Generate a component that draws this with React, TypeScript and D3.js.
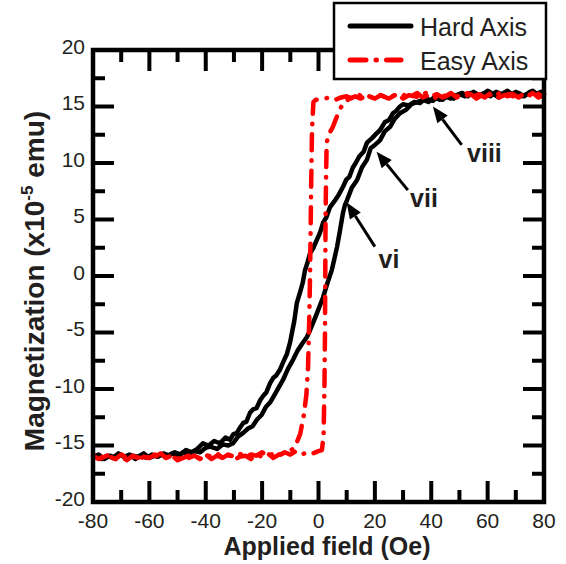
import React, { useEffect, useRef } from "react";
import * as d3 from "d3";

// field (Oe), magnetization (x1e-5 emu)
const hardDown: [number, number][] = [
  [80, 16.2], [78, 16.0], [76, 16.4], [74, 16.1], [72, 15.9], [70, 16.3], [68, 16.0], [66, 16.2], [64, 15.8], [62, 16.1],
  [60, 16.4], [58, 16.0], [56, 15.8], [54, 16.2], [52, 15.9], [50, 16.1], [48, 15.7], [46, 16.0], [44, 15.6], [42, 15.8],
  [40.6, 15.5], [38, 15.7], [36, 15.3], [34, 15.4], [32, 15.1], [30, 15.2], [28.9, 15.0], [27.5, 14.6], [26.4, 14.4], [25, 13.8],
  [23.5, 13.6], [21.8, 12.9], [20.5, 12.6], [19, 12.2], [17.2, 11.8], [16, 11.0], [14.5, 10.6], [13.2, 10.0], [12.2, 9.6], [11, 8.8],
  [9.8, 8.5], [8.7, 7.9], [7.2, 7.2], [5.6, 6.6], [4.1, 6.1], [2.8, 5.2], [1.6, 4.7], [0.5, 3.8], [-0.6, 3.2], [-1.8, 2.5],
  [-3.0, 2.0], [-3.9, 1.2], [-4.8, 0.5], [-5.6, -0.6], [-6.5, -1.4], [-7.7, -2.4], [-8.6, -4.0], [-9.4, -5.0], [-10.1, -5.9], [-11.2, -6.9],
  [-12.5, -7.6], [-13.7, -8.3], [-15, -8.8], [-16, -9.0], [-17.2, -9.5], [-18.5, -10.3], [-19.6, -10.6], [-20.7, -11.0], [-22, -11.7], [-23.2, -11.8],
  [-24.3, -12.1], [-25.6, -12.9], [-26.7, -13.0], [-27.8, -13.4], [-29, -13.9], [-30.2, -14.0], [-31.4, -14.5], [-33, -14.3], [-35, -14.8], [-37, -14.6],
  [-39, -15.0], [-41, -14.8], [-43, -15.3], [-45, -15.6], [-47, -15.4], [-49, -15.8], [-51, -15.6], [-53, -15.9], [-55, -15.7], [-57, -16.0],
  [-59, -15.8], [-61, -16.1], [-63, -15.9], [-65, -16.2], [-67, -15.8], [-69, -16.0], [-71, -15.7], [-73, -16.1], [-75, -15.9], [-77, -16.2],
  [-79, -15.9], [-80, -16.0],
];

const hardUp: [number, number][] = [
  [-80, -16.1], [-78, -15.8], [-76, -16.2], [-74, -15.9], [-72, -16.1], [-70, -15.8], [-68, -16.2], [-66, -15.9], [-64, -16.0], [-62, -15.7],
  [-60, -16.1], [-58, -15.9], [-56, -15.8], [-54, -16.0], [-52, -15.7], [-50, -15.9], [-48, -15.6], [-46, -15.8], [-44, -15.5], [-42, -15.6],
  [-40, -15.2], [-38.5, -15.1], [-36, -15.3], [-34, -14.9], [-32, -15.0], [-30.3, -14.8], [-28.5, -14.2], [-26.8, -13.9], [-25, -13.5], [-23.4, -13.3],
  [-21.8, -12.7], [-20.2, -12.3], [-18.7, -11.6], [-17.2, -11.2], [-15.8, -10.6], [-14.2, -9.9], [-12.6, -9.2], [-10.8, -8.2], [-9.0, -7.4], [-7.4, -6.6],
  [-5.8, -6.0], [-4.1, -5.4], [-3.0, -4.8], [-2.0, -4.2], [-0.4, -3.2], [1.6, -1.9], [3.2, -0.6], [4.7, 0.5], [5.7, 1.6], [6.6, 2.6],
  [7.6, 4.0], [8.7, 5.6], [9.4, 6.3], [10.1, 6.7], [11.8, 7.8], [13.7, 8.5], [15.4, 9.6], [17.2, 10.3], [18.5, 11.3], [20, 11.6],
  [21.8, 12.0], [23.5, 12.8], [25.4, 13.2], [27, 13.9], [28.9, 14.4], [31, 14.7], [33, 15.2], [35, 15.4], [37, 15.6], [39, 15.4],
  [41, 15.8], [43, 15.6], [45, 15.9], [47, 15.7], [49, 16.0], [51, 16.2], [53, 15.9], [55, 16.3], [57, 16.0], [59, 16.2],
  [61, 15.9], [63, 16.3], [65, 16.1], [67, 16.4], [69, 16.0], [71, 16.2], [73, 15.9], [75, 16.3], [77, 16.1], [79, 16.3],
  [80, 16.0],
];

const easyDown: [number, number][] = [
  [80, 16.1], [78, 15.8], [76, 16.2], [74, 15.9], [72, 16.0], [70, 15.7], [68, 16.1], [66, 16.0], [64, 15.8], [62, 16.2],
  [60, 15.9], [58, 16.0], [56, 15.7], [54, 16.1], [52, 15.9], [50, 15.8], [48, 16.2], [46, 16.0], [44, 15.8], [42, 16.1],
  [40, 15.9], [38, 16.2], [36, 15.8], [34, 15.9], [32, 16.0], [30, 15.7], [28, 16.1], [26, 15.9], [24, 15.8], [22, 16.0],
  [20, 15.7], [18, 15.9], [16, 15.8], [14, 16.1], [12, 15.7], [10, 15.9], [8, 15.8], [6, 15.6], [4, 15.8], [2, 15.7],
  [0, 15.6], [-1, 15.6], [-1.8, 15.4], [-2.3, 13], [-2.6, 8], [-2.8, 4], [-3.0, 0], [-3.3, -4], [-3.7, -8], [-4.3, -10.5],
  [-5.2, -12.3], [-6.5, -14], [-8.5, -15.2], [-11, -15.6], [-14, -15.8], [-16, -16.1], [-18, -15.7], [-20, -16.0], [-22, -15.8], [-24, -16.2],
  [-26, -15.9], [-28, -16.0], [-30, -16.3], [-32, -15.8], [-34, -16.1], [-36, -15.9], [-38, -16.2], [-40, -15.8], [-42, -16.0], [-44, -16.2],
  [-46, -15.9], [-48, -16.1], [-50, -16.3], [-52, -15.9], [-54, -16.0], [-56, -16.2], [-58, -15.8], [-60, -16.1], [-62, -16.0], [-64, -16.3],
  [-66, -15.9], [-68, -16.1], [-70, -15.8], [-72, -16.2], [-74, -16.0], [-76, -15.9], [-78, -16.2], [-80, -16.0],
];

const easyUp: [number, number][] = [
  [-80, -15.9], [-78, -16.2], [-76, -16.0], [-74, -15.8], [-72, -16.2], [-70, -16.0], [-68, -16.3], [-66, -15.9], [-64, -16.1], [-62, -15.8],
  [-60, -16.2], [-58, -16.0], [-56, -15.7], [-54, -16.1], [-52, -15.9], [-50, -16.2], [-48, -15.8], [-46, -16.1], [-44, -15.9], [-42, -16.2],
  [-40, -15.8], [-38, -16.0], [-36, -15.7], [-34, -16.1], [-32, -15.8], [-30, -16.0], [-28, -15.7], [-26, -16.1], [-24, -15.8], [-22, -15.9],
  [-20, -15.6], [-18, -16.0], [-16, -15.7], [-14, -15.9], [-12, -15.6], [-10, -15.8], [-8, -15.5], [-6, -15.8], [-4, -15.6], [-2, -15.7],
  [0, -15.5], [1.2, -15.4], [1.8, -14.2], [2.1, -10], [2.3, -5], [2.4, 0], [2.5, 5], [2.7, 9], [2.9, 11.8], [3.6, 12.5],
  [5.1, 13.2], [6.8, 14.3], [8.7, 15.3], [11, 15.7], [13, 15.9], [15, 15.7], [17, 16.0], [19, 15.8], [21, 16.1], [23, 15.9],
  [25, 15.7], [27, 16.0], [29, 15.8], [31, 16.1], [33, 15.9], [35, 16.2], [37, 15.8], [39, 16.0], [41, 15.7], [43, 16.1],
  [45, 15.9], [47, 16.2], [49, 15.8], [51, 16.0], [53, 16.2], [55, 15.9], [57, 16.1], [59, 15.8], [61, 16.2], [63, 16.0],
  [65, 16.3], [67, 15.9], [69, 16.1], [71, 15.8], [73, 16.2], [75, 16.0], [77, 16.3], [79, 15.9], [80, 16.1],
];

const xTicks = [-80, -60, -40, -20, 0, 20, 40, 60, 80];
const xMinor = [-70, -50, -30, -10, 10, 30, 50, 70];
const yTicks = [-20, -15, -10, -5, 0, 5, 10, 15, 20];
const yMinor = [-17.5, -12.5, -7.5, -2.5, 2.5, 7.5, 12.5, 17.5];

// annotations: tip, tail of arrow and text anchor, in data units
const notes = [
  { text: "vi", tip: [10.0, 6.5], tail: [20.0, 2.6], at: [21.3, 0.7] },
  { text: "vii", tip: [20.6, 11.0], tail: [31.7, 7.6], at: [32.5, 6.1] },
  { text: "viii", tip: [40.6, 15.0], tail: [50.8, 11.6], at: [52.7, 10.1] },
];

const FONT = "'Liberation Sans', Arial, Helvetica, sans-serif";
const TXT = "#231f20";

export default function App() {
  const svgRef = useRef<SVGSVGElement>(null);

  useEffect(() => {
    const svg = d3.select(svgRef.current);
    svg.selectAll("*").remove();

    const x = d3.scaleLinear().domain([-80, 80]).range([93, 544]);
    const y = d3.scaleLinear().domain([-20, 20]).range([502, 50]);

    const line = d3.line<[number, number]>()
      .x(d => x(d[0]))
      .y(d => y(d[1]));

    // hard axis loop
    [hardDown, hardUp].forEach(s => {
      svg.append("path")
        .attr("d", line(s))
        .attr("fill", "none")
        .attr("stroke", "#000")
        .attr("stroke-width", 4.5)
        .attr("stroke-linejoin", "round");
    });

    // easy axis loop
    [easyDown, easyUp].forEach(s => {
      svg.append("path")
        .attr("d", line(s))
        .attr("fill", "none")
        .attr("stroke", "#ff0000")
        .attr("stroke-width", 4.5)
        .attr("stroke-linecap", "round")
        .attr("stroke-linejoin", "round")
        .attr("stroke-dasharray", "16 10 0.5 10");
    });

    // frame
    svg.append("rect")
      .attr("x", x(-80)).attr("y", y(20))
      .attr("width", x(80) - x(-80)).attr("height", y(-20) - y(20))
      .attr("fill", "none").attr("stroke", "#000").attr("stroke-width", 4.5);

    const ticks = svg.append("g").attr("stroke", "#000").attr("stroke-width", 4);
    const addX = (vals: number[], len: number) => {
      vals.forEach(v => {
        ticks.append("line").attr("x1", x(v)).attr("x2", x(v)).attr("y1", y(-20)).attr("y2", y(-20) - len);
        ticks.append("line").attr("x1", x(v)).attr("x2", x(v)).attr("y1", y(20)).attr("y2", y(20) + len);
      });
    };
    const addY = (vals: number[], len: number) => {
      vals.forEach(v => {
        ticks.append("line").attr("y1", y(v)).attr("y2", y(v)).attr("x1", x(-80)).attr("x2", x(-80) + len);
        ticks.append("line").attr("y1", y(v)).attr("y2", y(v)).attr("x1", x(80)).attr("x2", x(80) - len);
      });
    };
    addX(xTicks, 21);
    addX(xMinor, 12);
    addY(yTicks, 21);
    addY(yMinor, 12);

    // tick labels
    svg.append("g").selectAll("text").data(xTicks).enter().append("text")
      .attr("x", d => x(d)).attr("y", 528)
      .attr("text-anchor", "middle")
      .attr("font-family", FONT).attr("font-size", 21).attr("fill", TXT)
      .text(d => d);

    svg.append("g").selectAll("text").data(yTicks).enter().append("text")
      .attr("x", 85).attr("y", d => y(d) + 3.5)
      .attr("text-anchor", "end")
      .attr("font-family", FONT).attr("font-size", 21).attr("fill", TXT)
      .text(d => d);

    // axis titles
    svg.append("text")
      .attr("x", 327).attr("y", 555)
      .attr("text-anchor", "middle")
      .attr("font-family", FONT).attr("font-size", 25).attr("font-weight", "bold").attr("fill", TXT)
      .text("Applied field (Oe)");

    const yt = svg.append("text")
      .attr("transform", "translate(44, 281) rotate(-90)")
      .attr("text-anchor", "middle")
      .attr("font-family", FONT).attr("font-size", 28).attr("font-weight", "bold").attr("fill", TXT);
    yt.append("tspan").text("Magnetization (x10");
    yt.append("tspan").attr("dy", -11).attr("font-size", 17).text("-5");
    yt.append("tspan").attr("dy", 11).text(" emu)");

    // arrows
    notes.forEach(n => {
      const tx = x(n.tip[0]), ty = y(n.tip[1]);
      const sx = x(n.tail[0]), sy = y(n.tail[1]);
      const a = Math.atan2(ty - sy, tx - sx);
      const hl = 16, hw = 6.5;
      const bx = tx - hl * Math.cos(a), by = ty - hl * Math.sin(a);
      svg.append("line")
        .attr("x1", sx).attr("y1", sy).attr("x2", bx).attr("y2", by)
        .attr("stroke", "#000").attr("stroke-width", 3);
      svg.append("path")
        .attr("d", `M${tx},${ty}L${bx - hw * Math.sin(a)},${by + hw * Math.cos(a)}L${bx + hw * Math.sin(a)},${by - hw * Math.cos(a)}Z`)
        .attr("fill", "#000");
      svg.append("text")
        .attr("x", x(n.at[0])).attr("y", y(n.at[1]))
        .attr("font-family", FONT).attr("font-size", 25).attr("font-weight", "bold").attr("fill", TXT)
        .text(n.text);
    });

    // legend
    const lg = svg.append("g");
    lg.append("rect")
      .attr("x", 334).attr("y", 3).attr("width", 212).attr("height", 76)
      .attr("fill", "#fff").attr("stroke", "#000").attr("stroke-width", 2.5);
    lg.append("line")
      .attr("x1", 350).attr("x2", 411).attr("y1", 26).attr("y2", 26)
      .attr("stroke", "#000").attr("stroke-width", 5).attr("stroke-linecap", "round");
    lg.append("line")
      .attr("x1", 350).attr("x2", 401).attr("y1", 60).attr("y2", 60)
      .attr("stroke", "#ff0000").attr("stroke-width", 5).attr("stroke-linecap", "round")
      .attr("stroke-dasharray", "16 10 0.5 10");
    lg.append("text").attr("x", 420).attr("y", 36)
      .attr("font-family", FONT).attr("font-size", 25).attr("fill", TXT).text("Hard Axis");
    lg.append("text").attr("x", 420).attr("y", 70)
      .attr("font-family", FONT).attr("font-size", 25).attr("fill", TXT).text("Easy Axis");
  }, []);

  return (
    <svg
      ref={svgRef}
      width={566}
      height={564}
      style={{ position: "absolute", left: 0, top: 0, background: "#fff" }}
    />
  );
}
